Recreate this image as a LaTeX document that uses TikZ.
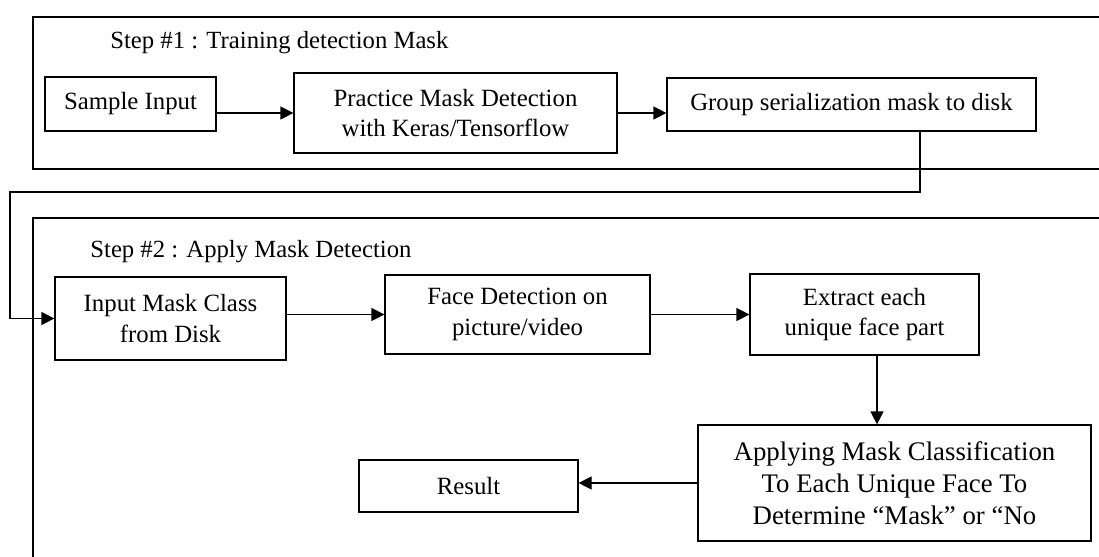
\documentclass[tikz,border=0pt]{standalone}
\usepackage{fontspec}
\setmainfont{Liberation Serif}
\usetikzlibrary{arrows.meta}

\tikzset{
  blok/.style={draw, line width=0.6pt, inner sep=0pt, align=center,
    font=\fontsize{12.4}{15.2}\selectfont},
  frame/.style={draw, line width=1.1pt},
  arr/.style={line width=0.6pt, -{Triangle[length=6.5pt,width=6.5pt]}},
  steplabel/.style={anchor=west, inner sep=0pt, font=\fontsize{12.35}{15}\selectfont}
}

\begin{document}
\begin{tikzpicture}[x=0.5pt,y=-0.5pt]
\clip (0,0) rectangle (1099,557);
\fill[white] (0,0) rectangle (1099,557);

% Draw the two step frames
\draw[frame] (33,17) rectangle (1110,169);
\draw[frame] (33,218) rectangle (1110,570);
\node[steplabel] (stepone) at (110,43) {Step \#1 : Training detection Mask};
\node[steplabel] (steptwo) at (90,252) {Step \#2 : Apply Mask Detection};

% Step 1 boxes
\node[blok, minimum width=85.5pt, minimum height=27pt] (sample) at (130.5,104) {Sample Input};
\node[blok, minimum width=161.5pt, minimum height=40pt] (practice) at (455.5,113) {Practice Mask Detection\\with Keras/Tensorflow};
\node[blok, minimum width=184.5pt, minimum height=26.5pt] (grp) at (851.5,104.5) {Group serialization mask to disk};

% Step 2 boxes
\node[blok, minimum width=115.5pt, minimum height=41.5pt] (input) at (170.5,318.5) {Input Mask Class\\from Disk};
\node[blok, minimum width=132.5pt, minimum height=39.5pt] (face) at (517.5,314.5) {Face Detection on\\picture/video};
\node[blok, minimum width=114.5pt, minimum height=40.5pt] (ext) at (864.5,314.5) {Extract each\\unique face part};
\node[blok, minimum width=196.5pt, minimum height=58pt,
  font=\fontsize{13.4}{16}\selectfont] (apply) at (894.5,483) {Applying Mask Classification\\To Each Unique Face To\\Determine ``Mask'' or ``No};
\node[blok, minimum width=109.5pt, minimum height=26pt] (result) at (468.5,486) {Result};

% Arrows
\draw[arr] (sample.east |- practice.west) -- (practice.west);
\draw[arr] (practice.east) -- (practice.east -| grp.west);
\coordinate (drop) at (920,192);
\coordinate (side) at (10,192);
\draw[arr] (grp.south -| drop) -- (drop) -- (side) |- (input.west);
\draw[arr] (input.east |- face.west) -- (face.west);
\draw[arr] (face.east) -- (ext.west);
\draw[arr] ([xshift=6.25pt]ext.south) -- ([xshift=6.25pt]ext.south |- apply.north);
\draw[arr] (apply.west) -- (apply.west -| result.east);
\end{tikzpicture}
\end{document}
